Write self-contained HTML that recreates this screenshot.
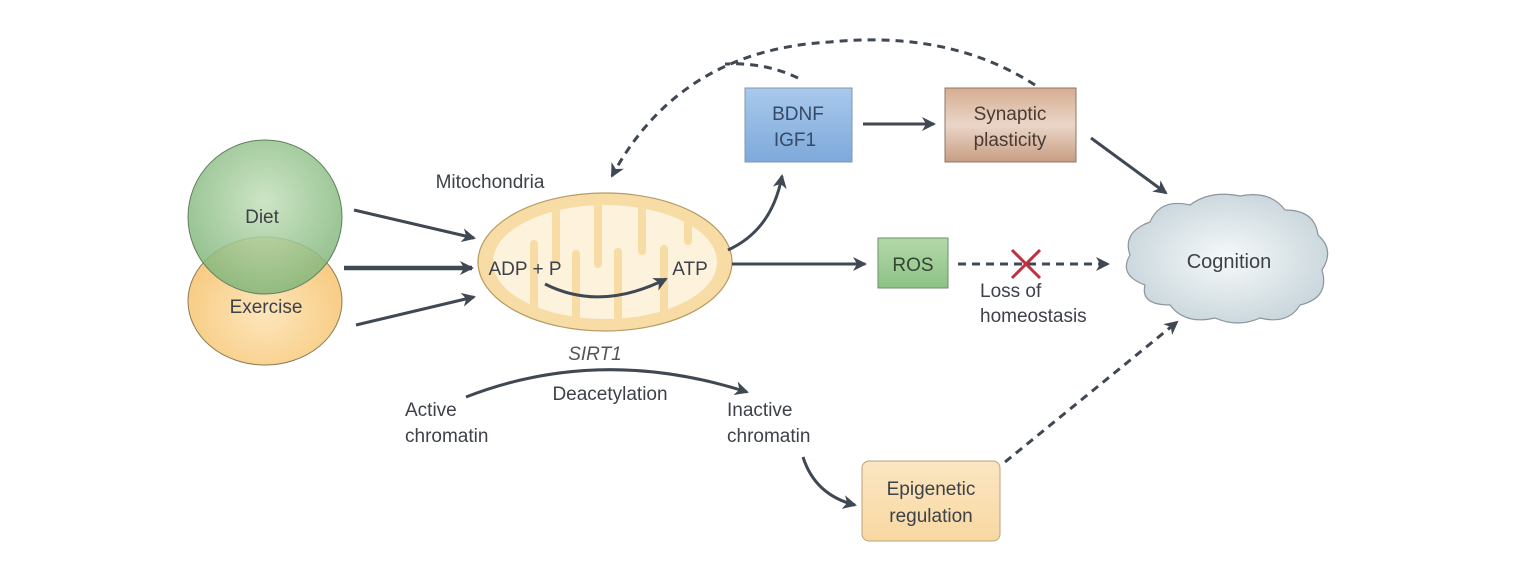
<!DOCTYPE html>
<html><head><meta charset="utf-8"><style>
html,body{margin:0;padding:0;background:#fff;}
svg{display:block;font-family:"Liberation Sans",sans-serif;}
text{fill:#3d4148;font-size:19px;}
</style></head><body>
<svg width="1520" height="584" viewBox="0 0 1520 584" xmlns="http://www.w3.org/2000/svg">
<defs>
<marker id="ah2" markerWidth="14" markerHeight="14" refX="12" refY="7" orient="auto" markerUnits="userSpaceOnUse"><path d="M0,0 L14,7 L0,14 L4,7 Z" fill="#3f4853"/></marker>
<radialGradient id="gd" cx="50%" cy="40%" r="60%"><stop offset="0" stop-color="#c5e0bc"/><stop offset="1" stop-color="#7fb57a"/></radialGradient>
<radialGradient id="ge" cx="50%" cy="60%" r="60%"><stop offset="0" stop-color="#fde6bb"/><stop offset="1" stop-color="#f7c97d"/></radialGradient>
<radialGradient id="gc" cx="50%" cy="50%" r="60%"><stop offset="0" stop-color="#f6f9fa"/><stop offset="1" stop-color="#c4d2d8"/></radialGradient>
<linearGradient id="gb" x1="0" y1="0" x2="0" y2="1"><stop offset="0" stop-color="#a9c9ec"/><stop offset="1" stop-color="#7ea9da"/></linearGradient>
<linearGradient id="gs" x1="0" y1="0" x2="0" y2="1"><stop offset="0" stop-color="#d6ad91"/><stop offset="0.5" stop-color="#ead6c8"/><stop offset="1" stop-color="#c89d82"/></linearGradient>
<linearGradient id="gr" x1="0" y1="0" x2="0" y2="1"><stop offset="0" stop-color="#b3d9aa"/><stop offset="1" stop-color="#8cc284"/></linearGradient>
<linearGradient id="gep" x1="0" y1="0" x2="0" y2="1"><stop offset="0" stop-color="#fbe6c2"/><stop offset="1" stop-color="#f8d8a2"/></linearGradient>
<clipPath id="mc"><ellipse cx="605" cy="262" rx="112" ry="57"/></clipPath>
</defs>

<ellipse cx="265" cy="301" rx="77" ry="64" fill="url(#ge)" stroke="#8a7a55" stroke-width="1"/>
<ellipse cx="265" cy="217" rx="77" ry="77" fill="url(#gd)" fill-opacity="0.85" stroke="#5f7f5a" stroke-width="1"/>
<text x="262" y="223" text-anchor="middle">Diet</text>
<text x="266" y="313" text-anchor="middle">Exercise</text>

<line x1="354" y1="210" x2="474" y2="238" stroke="#3f4853" stroke-width="3" marker-end="url(#ah2)"/>
<line x1="344" y1="268" x2="472" y2="268" stroke="#3f4853" stroke-width="4.5" marker-end="url(#ah2)"/>
<line x1="356" y1="325" x2="474" y2="297" stroke="#3f4853" stroke-width="3" marker-end="url(#ah2)"/>

<text x="490" y="188" text-anchor="middle">Mitochondria</text>
<ellipse cx="605" cy="262" rx="127" ry="69" fill="#f7dca5" stroke="#b79a62" stroke-width="1.2"/>
<ellipse cx="605" cy="262" rx="112" ry="57" fill="#fdf2dc"/>
<g clip-path="url(#mc)" fill="#f7dca5">
<rect x="530" y="240" width="8" height="90" rx="4"/>
<rect x="572" y="250" width="8" height="90" rx="4"/>
<rect x="614" y="248" width="8" height="90" rx="4"/>
<rect x="660" y="245" width="8" height="90" rx="4"/>
<rect x="552" y="180" width="8" height="85" rx="4"/>
<rect x="594" y="180" width="8" height="88" rx="4"/>
<rect x="638" y="180" width="8" height="75" rx="4"/>
<rect x="684" y="180" width="8" height="65" rx="4"/>
</g>
<text x="525" y="275" text-anchor="middle">ADP + P</text>
<text x="690" y="275" text-anchor="middle">ATP</text>
<path d="M545,284 Q600,312 666,279" fill="none" stroke="#3f4853" stroke-width="3" marker-end="url(#ah2)"/>

<path d="M728,250 Q772,230 782,176" fill="none" stroke="#3f4853" stroke-width="3" marker-end="url(#ah2)"/>
<line x1="732" y1="264" x2="865" y2="264" stroke="#3f4853" stroke-width="3" marker-end="url(#ah2)"/>

<rect x="745" y="88" width="107" height="74" fill="url(#gb)" stroke="#7f97b2" stroke-width="1"/>
<text x="798" y="120" text-anchor="middle" style="fill:#354a66">BDNF</text>
<text x="795" y="146" text-anchor="middle" style="fill:#354a66">IGF1</text>
<line x1="863" y1="124" x2="934" y2="124" stroke="#3f4853" stroke-width="3" marker-end="url(#ah2)"/>

<rect x="945" y="88" width="131" height="74" fill="url(#gs)" stroke="#8e7767" stroke-width="1"/>
<text x="1010" y="120" text-anchor="middle" style="fill:#4a3a33">Synaptic</text>
<text x="1010" y="146" text-anchor="middle" style="fill:#4a3a33">plasticity</text>
<line x1="1091" y1="138" x2="1166" y2="193" stroke="#3f4853" stroke-width="3" marker-end="url(#ah2)"/>

<path d="M1035,85 Q950,30 830,42 Q680,50 612,176" fill="none" stroke="#3f4853" stroke-width="3" stroke-dasharray="8,6" marker-end="url(#ah2)"/>
<path d="M798,78 Q765,62 725,64" fill="none" stroke="#3f4853" stroke-width="3" stroke-dasharray="8,6"/>

<rect x="878" y="238" width="70" height="50" fill="url(#gr)" stroke="#6d8f68" stroke-width="1"/>
<text x="913" y="271" text-anchor="middle" style="fill:#334433">ROS</text>
<line x1="958" y1="264" x2="1108" y2="264" stroke="#3f4853" stroke-width="3" stroke-dasharray="8,6" marker-end="url(#ah2)"/>
<path d="M1012,250 L1040,278 M1040,250 L1012,278" stroke="#c0303e" stroke-width="3"/>
<text x="980" y="297">Loss of</text>
<text x="980" y="322">homeostasis</text>

<path d="M1150,222 Q1160,198 1190,205 Q1210,190 1240,196 Q1270,190 1285,210 Q1315,210 1318,235 Q1335,250 1322,270 Q1330,298 1300,305 Q1288,325 1260,318 Q1238,328 1215,318 Q1185,325 1170,305 Q1140,305 1145,285 Q1118,275 1130,255 Q1122,232 1150,222 Z" fill="url(#gc)" stroke="#8a969c" stroke-width="1.2"/>
<text x="1229" y="268" text-anchor="middle" style="font-size:20px">Cognition</text>

<text x="595" y="360" text-anchor="middle" style="font-style:italic;fill:#555">SIRT1</text>
<path d="M466,397 Q600,345 747,392" fill="none" stroke="#3f4853" stroke-width="3" marker-end="url(#ah2)"/>
<text x="610" y="400" text-anchor="middle">Deacetylation</text>
<text x="405" y="416">Active</text>
<text x="405" y="442">chromatin</text>
<text x="727" y="416">Inactive</text>
<text x="727" y="442">chromatin</text>
<path d="M803,457 Q815,495 855,505" fill="none" stroke="#3f4853" stroke-width="3" marker-end="url(#ah2)"/>

<rect x="862" y="461" width="138" height="80" rx="7" fill="url(#gep)" stroke="#b8a27c" stroke-width="1"/>
<text x="931" y="495" text-anchor="middle">Epigenetic</text>
<text x="931" y="522" text-anchor="middle">regulation</text>
<line x1="1005" y1="462" x2="1177" y2="322" stroke="#3f4853" stroke-width="3" stroke-dasharray="8,6" marker-end="url(#ah2)"/>
</svg>
</body></html>
